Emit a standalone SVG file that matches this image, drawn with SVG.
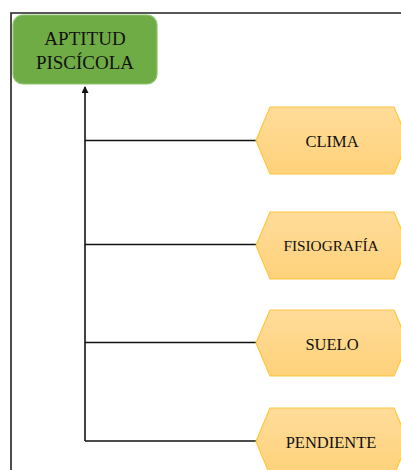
<svg xmlns="http://www.w3.org/2000/svg" width="401" height="470" viewBox="0 0 401 470">
<defs>
<linearGradient id="hexg" x1="0" y1="0" x2="0" y2="1">
<stop offset="0" stop-color="#FFDC9A"/>
<stop offset="1" stop-color="#FFD27A"/>
</linearGradient>
<marker id="arr" viewBox="0 0 7 7" refX="6" refY="3.5" markerWidth="7" markerHeight="7" markerUnits="userSpaceOnUse" orient="auto">
<path d="M0,0 L7,3.5 L0,7 Z" fill="#111"/>
</marker>
</defs>
<style>
.frame{fill:none;stroke:#222;stroke-width:1.6}
.conn{fill:none;stroke:#111;stroke-width:1.6}
.hex{fill:url(#hexg);stroke:#FFC53D;stroke-width:1.2}
.lbl{font-family:"Liberation Serif","Times New Roman",serif;fill:#111;text-anchor:middle}
.root{fill:#6FAC46;stroke:#8DC46A;stroke-width:1.2}
</style>
<rect width="401" height="470" fill="#fff"/>
<path class="frame" d="M11,470 V13 H401"/>
<g id="connectors">
<path class="conn" d="M85,441 V87" marker-end="url(#arr)"/>
<path class="conn" d="M85,140.5 H257"/>
<path class="conn" d="M85,244.5 H257"/>
<path class="conn" d="M85,342.5 H257"/>
<path class="conn" d="M85,441 H257"/>
</g>
<g id="aptitud">
<rect class="root" x="13" y="15" width="144" height="69" rx="10"/>
<text class="lbl" x="85" y="45" font-size="19">APTITUD</text>
<text class="lbl" x="85" y="69" font-size="19">PISCÍCOLA</text>
</g>
<g id="clima">
<polygon class="hex" points="256,140.5 270,107 394,107 408,140.5 394,174 270,174"/>
<text class="lbl" x="332" y="147" font-size="16.5">CLIMA</text>
</g>
<g id="fisiografia">
<polygon class="hex" points="256,245.5 270,212 394,212 408,245.5 394,279 270,279"/>
<text class="lbl" x="331" y="251" font-size="15.3">FISIOGRAFÍA</text>
</g>
<g id="suelo">
<polygon class="hex" points="256,343 270,310 394,310 408,343 394,376 270,376"/>
<text class="lbl" x="332" y="349.5" font-size="16.5">SUELO</text>
</g>
<g id="pendiente">
<polygon class="hex" points="256,441.5 270,408 394,408 408,441.5 394,475 270,475"/>
<text class="lbl" x="331" y="448" font-size="16.5">PENDIENTE</text>
</g>
</svg>
